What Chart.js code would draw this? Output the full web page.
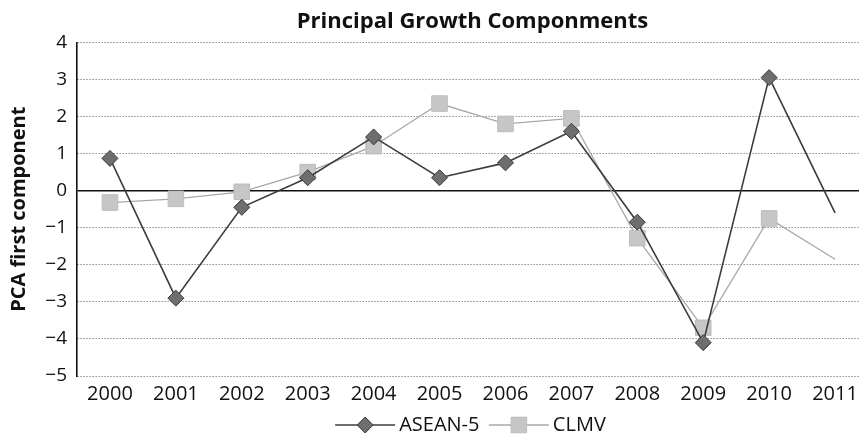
<!DOCTYPE html>
<html>
<head>
<meta charset="utf-8">
<script src="https://cdn.jsdelivr.net/npm/chart.js@4/dist/chart.umd.min.js"></script>
<style>
  html, body { margin: 0; padding: 0; background: #fff; overflow: hidden; }
  #wrap { width: 880px; height: 442px; }
</style>
</head>
<body>
<div id="wrap"><canvas id="chart" width="880" height="442"></canvas></div>
<script>
const years = ["2000", "2001", "2002", "2003", "2004", "2005", "2006", "2007", "2008", "2009", "2010", "2011"];
const asean5 = [0.87, -2.9, -0.45, 0.35, 1.45, 0.35, 0.75, 1.6, -0.85, -4.1, 3.05, -0.6];
const clmv = [-0.32, -0.22, -0.03, 0.5, 1.2, 2.35, 1.8, 1.95, -1.28, -3.7, -0.75, -1.85];
const yMin = -5;
const yMax = 4;

// the 2011 values are only line ends in the scan, no markers
const markerSizes = (arr, r) => arr.map((v, i) => (i === arr.length - 1 ? 0 : r));

const FONT = "'Open Sans', 'DejaVu Sans', sans-serif";

// legend: a short line with the marker in the middle
const legendLines = {
    id: "legendLines",
    afterDraw(chart) {
        const legend = chart.legend;
        if (!legend || !legend.legendHitBoxes) return;
        const ctx = chart.ctx;
        const boxW = legend.options.labels.boxWidth;
        legend.legendHitBoxes.forEach((box, i) => {
            const ds = chart.data.datasets[i];
            const cy = box.top + box.height / 2;
            ctx.save();
            ctx.strokeStyle = ds.borderColor;
            ctx.lineWidth = ds.borderWidth;
            ctx.beginPath();
            ctx.moveTo(box.left - 4, cy);
            ctx.lineTo(box.left + boxW + 6, cy);
            ctx.stroke();
            ctx.fillStyle = ds.pointBackgroundColor;
            ctx.strokeStyle = ds.pointBorderColor;
            ctx.lineWidth = 1;
            Chart.helpers.drawPoint(ctx, {
                pointStyle: ds.pointStyle,
                radius: ds.legendRadius,
                borderWidth: 1,
                rotation: 0
            }, box.left + boxW / 2 + 1, cy);
            ctx.restore();
        });
    }
};

new Chart(document.getElementById("chart"), {
    type: "line",
    data: {
        labels: years,
        datasets: [
            {
                label: "ASEAN-5",
                data: asean5,
                borderColor: "#3c3c3c",
                borderWidth: 1.6,
                pointStyle: "rectRot",
                pointRadius: markerSizes(asean5, 8),
                pointBackgroundColor: "#6e6e6e",
                pointBorderColor: "#3a3a3a",
                pointBorderWidth: 1,
                legendRadius: 8,
                tension: 0
            },
            {
                label: "CLMV",
                data: clmv,
                borderColor: "#a8a8a8",
                borderWidth: 1.3,
                pointStyle: "rect",
                pointRadius: markerSizes(clmv, 11),
                pointBackgroundColor: "#c6c6c6",
                pointBorderColor: "#bcbcbc",
                pointBorderWidth: 1,
                legendRadius: 11,
                tension: 0
            }
        ]
    },
    options: {
        responsive: false,
        animation: false,
        layout: { padding: { left: 0, right: 11, top: 0, bottom: -3 } },
        plugins: {
            tooltip: { enabled: false },
            title: {
                display: true,
                fullSize: false,
                text: "Principal Growth Componments",
                color: "#111",
                font: { family: FONT, size: 22, weight: "bold" },
                padding: { top: 9, bottom: 7 }
            },
            legend: {
                position: "bottom",
                fullSize: false,
                labels: {
                    color: "#111",
                    font: { family: FONT, size: 20 },
                    boxWidth: 50,
                    boxHeight: 14,
                    padding: 3,
                    generateLabels(chart) {
                        return chart.data.datasets.map((ds, i) => ({
                            text: ds.label + (i === 0 ? "  " : ""),
                            fillStyle: "rgba(0,0,0,0)",
                            strokeStyle: "rgba(0,0,0,0)",
                            lineWidth: 0,
                            fontColor: "#111",
                            datasetIndex: i
                        }));
                    }
                }
            }
        },
        scales: {
            x: {
                offset: true,
                grid: { display: false, drawTicks: false },
                border: { display: false },
                ticks: {
                    color: "#111",
                    font: { family: FONT, size: 20, lineHeight: 1 },
                    padding: 8,
                    maxRotation: 0,
                    autoSkip: false
                }
            },
            y: {
                min: yMin,
                max: yMax,
                afterFit(scale) { scale.width = 77; },
                grid: {
                    drawTicks: false,
                    color: (c) => (c.tick && c.tick.value === 0 ? "#111" : "#555"),
                    lineWidth: (c) => (c.tick && c.tick.value === 0 ? 1.6 : 1)
                },
                border: {
                    display: true,
                    color: "#111",
                    width: 1.6,
                    dash: (c) => (c.tick && c.tick.value === 0 ? [] : [1, 2])
                },
                ticks: {
                    stepSize: 1,
                    color: "#111",
                    font: { family: FONT, size: 19 },
                    padding: 10,
                    callback: (v) => String(v).replace("-", "\u2212")
                },
                title: {
                    display: true,
                    text: "PCA first component",
                    color: "#111",
                    font: { family: FONT, size: 20, weight: "bold" },
                    padding: { top: 7, bottom: 0 }
                }
            }
        }
    },
    plugins: [legendLines]
});
</script>
</body>
</html>
